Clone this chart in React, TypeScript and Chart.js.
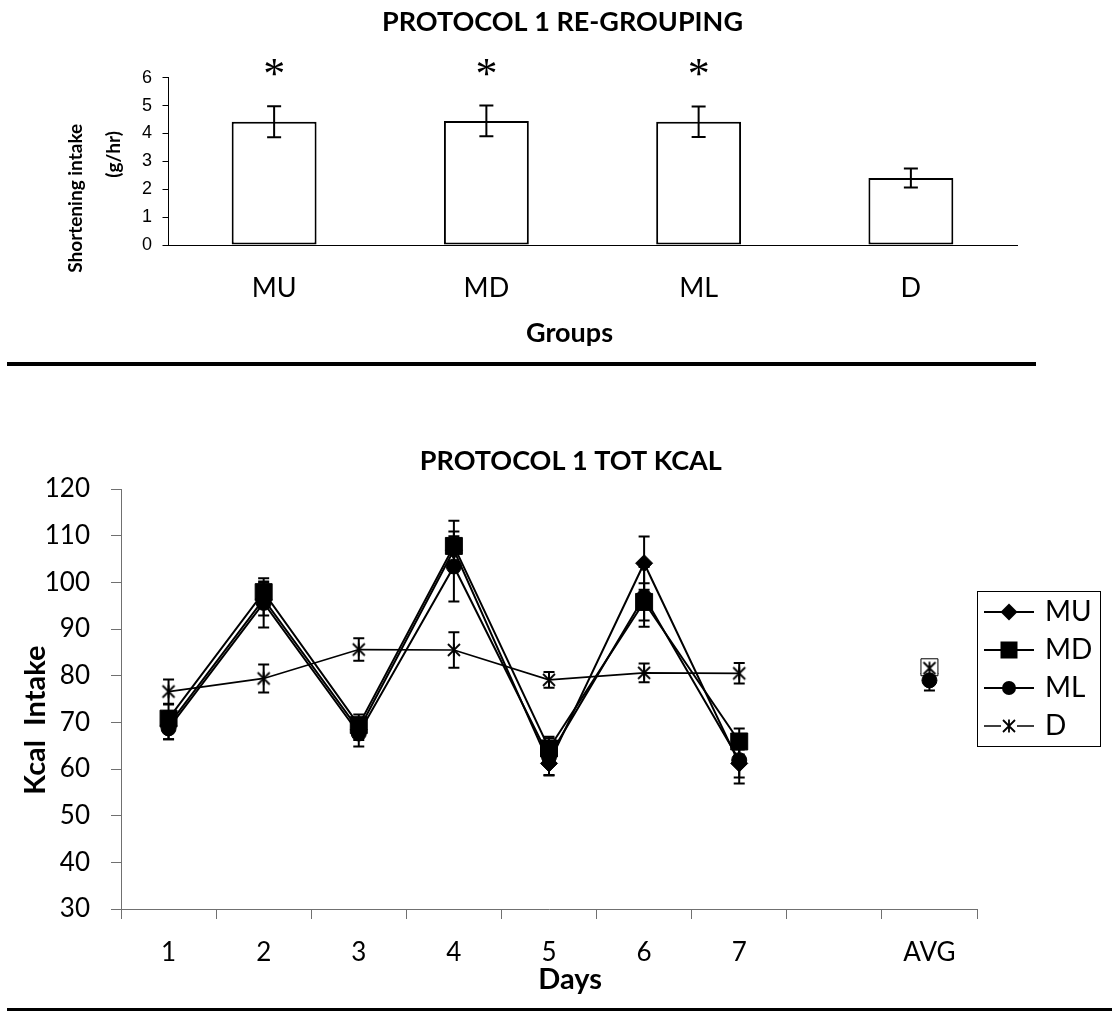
import React, { useEffect, useRef } from 'react';
import { Chart, registerables } from 'chart.js';

Chart.register(...registerables);

// ---------- Top chart data ----------
const groupLabels = ['MU', 'MD', 'ML', 'D'];
const shorteningMeans = [4.42, 4.45, 4.42, 2.4];
const shorteningErrors = [0.56, 0.55, 0.55, 0.34];
const significance = ['*', '*', '*', ''];

// ---------- Bottom chart data ----------
const dayLabels = ['1', '2', '3', '4', '5', '6', '7', '', 'AVG'];
const seriesNames = ['MU', 'MD', 'ML', 'D'];
const muKcal = [69.4, 96.4, 68.4, 106.9, 61.2, 104.1, 61.2, null, 80.5];
const muErr = [3.0, 3.5, 2.2, 3.0, 2.5, 5.7, 3.0, null, 1.5];
const mdKcal = [70.8, 97.9, 69.4, 107.8, 64.4, 95.8, 65.9, null, 81.8];
const mdErr = [3.0, 2.3, 2.3, 5.4, 2.5, 4.0, 2.8, null, 1.4];
const mlKcal = [68.7, 95.6, 67.6, 103.4, 62.6, 96.9, 61.9, null, 79.0];
const mlErr = [2.3, 5.3, 2.8, 7.5, 4.0, 6.4, 5.0, null, 2.2];
const dKcal = [76.6, 79.4, 85.6, 85.5, 79.1, 80.6, 80.5, null, 81.6];
const dErr = [2.6, 3.0, 2.4, 3.8, 1.7, 2.0, 2.2, null, 1.5];

const LEGEND_FONT = 28;
const LEGEND_PAD = 16;
const LEGEND_ICON_W = 44;

const measureCtx = () => document.createElement('canvas').getContext('2d')!;

// shifts centred text along its reading direction by padding it with spaces
function shiftAlong(text: string, px: number, font: string) {
  const c = measureCtx();
  c.font = font;
  const sw = c.measureText(' ').width;
  const n = Math.max(0, Math.round((Math.abs(px) * 2) / sw));
  const sp = ' '.repeat(n);
  return px > 0 ? sp + text : text + sp;
}

function drawMarker(g: CanvasRenderingContext2D, kind: string, x: number, y: number) {
  g.fillStyle = '#000';
  g.strokeStyle = '#000';
  g.beginPath();
  if (kind === 'diamond') {
    g.moveTo(x - 8.5, y);
    g.lineTo(x, y - 8.5);
    g.lineTo(x + 8.5, y);
    g.lineTo(x, y + 8.5);
    g.closePath();
    g.fill();
  } else if (kind === 'square') {
    g.fillRect(x - 8.5, y - 8.5, 17, 17);
  } else if (kind === 'circle') {
    g.arc(x, y, 7, 0, Math.PI * 2);
    g.fill();
  } else {
    g.lineWidth = 1.8;
    g.moveTo(x - 6, y - 6);
    g.lineTo(x + 6, y + 6);
    g.moveTo(x + 6, y - 6);
    g.lineTo(x - 6, y + 6);
    g.moveTo(x, y - 6.5);
    g.lineTo(x, y + 6.5);
    g.stroke();
  }
}

function makeStarPoint() {
  const c = document.createElement('canvas');
  c.width = 16;
  c.height = 16;
  const g = c.getContext('2d')!;
  drawMarker(g, 'star', 8, 8);
  return c;
}

function makeLegendIcon(kind: string) {
  const c = document.createElement('canvas');
  c.width = 50;
  c.height = 20;
  const g = c.getContext('2d')!;
  g.strokeStyle = '#000';
  g.lineWidth = kind === 'star' ? 1.6 : 2;
  g.beginPath();
  if (kind === 'star') {
    g.moveTo(0, 10);
    g.lineTo(17, 10);
    g.moveTo(33, 10);
    g.lineTo(50, 10);
  } else {
    g.moveTo(0, 10);
    g.lineTo(50, 10);
  }
  g.stroke();
  drawMarker(g, kind, 25, 10);
  return c;
}

function drawErrors(chart: any, opts: any) {
  const ctx = chart.ctx;
  const yScale = chart.scales.y;
  chart.data.datasets.forEach((ds: any, i: number) => {
    const errs = ds.errors;
    if (!errs) return;
    const meta = chart.getDatasetMeta(i);
    ctx.save();
    ctx.strokeStyle = '#000';
    ctx.lineWidth = opts.lineWidth;
    meta.data.forEach((el: any, j: number) => {
      const v = ds.data[j];
      const e = errs[j];
      if (v == null || e == null) return;
      const x = el.x;
      const yt = yScale.getPixelForValue(v + e);
      const yb = yScale.getPixelForValue(v - e);
      const cw = opts.capWidth / 2;
      ctx.beginPath();
      ctx.moveTo(x, yt);
      ctx.lineTo(x, yb);
      ctx.moveTo(x - cw, yt);
      ctx.lineTo(x + cw, yt);
      ctx.moveTo(x - cw, yb);
      ctx.lineTo(x + cw, yb);
      ctx.stroke();
    });
    ctx.restore();
  });
}

const errorBarPlugin = {
  id: 'errorBars',
  beforeDatasetsDraw(chart: any, _a: any, opts: any) {
    if (opts.when === 'before') drawErrors(chart, opts);
  },
  afterDatasetsDraw(chart: any, _a: any, opts: any) {
    if (opts.when === 'after') drawErrors(chart, opts);
  },
};

const sigPlugin = {
  id: 'sigMarks',
  afterDatasetsDraw(chart: any) {
    const ctx = chart.ctx;
    const meta = chart.getDatasetMeta(0);
    const yc = chart.scales.y.getPixelForValue(6.35);
    ctx.save();
    ctx.font = '44px "Liberation Serif"';
    ctx.fillStyle = '#000';
    ctx.textAlign = 'center';
    ctx.textBaseline = 'alphabetic';
    significance.forEach((s, i) => {
      if (!s) return;
      const m = ctx.measureText(s);
      const base = yc + (m.actualBoundingBoxAscent - m.actualBoundingBoxDescent) / 2;
      ctx.fillText(s, meta.data[i].x, base);
    });
    ctx.restore();
  },
};

const legendFramePlugin = {
  id: 'legendFrame',
  afterDraw(chart: any) {
    const hb = chart.legend && chart.legend.legendHitBoxes;
    if (!hb || !hb.length) return;
    const ctx = chart.ctx;
    const l = Math.min(...hb.map((h: any) => h.left)) - 10;
    const t = hb[0].top - 7;
    const r = l + 123;
    const last = hb[hb.length - 1];
    const b = last.top + last.height + 6;
    ctx.save();
    ctx.strokeStyle = '#000';
    ctx.lineWidth = 1;
    ctx.strokeRect(Math.round(l) + 0.5, Math.round(t) + 0.5, Math.round(r - l), Math.round(b - t));
    ctx.restore();
  },
};

export default function App() {
  const topRef = useRef<HTMLCanvasElement>(null);
  const botRef = useRef<HTMLCanvasElement>(null);

  useEffect(() => {
    Chart.defaults.font.family = 'Lato';
    Chart.defaults.color = '#000';

    const top = new Chart(topRef.current!, {
      type: 'bar',
      data: {
        labels: groupLabels,
        datasets: [
          {
            data: shorteningMeans,
            errors: shorteningErrors,
            backgroundColor: '#fff',
            borderColor: '#000',
            borderWidth: 2,
            borderSkipped: false,
            barPercentage: 0.4,
            categoryPercentage: 1,
          } as any,
        ],
      },
      options: {
        responsive: false,
        animation: false,
        devicePixelRatio: 1,
        layout: { padding: { left: 13, right: 0, top: 0, bottom: 0 } },
        plugins: {
          legend: { display: false },
          tooltip: { enabled: false },
          title: {
            display: true,
            text: 'PROTOCOL 1 RE-GROUPING',
            color: '#000',
            font: { size: 27, weight: 'bold', lineHeight: 1.2 },
            padding: { top: 5.8, bottom: 39.5 },
          },
          errorBars: { when: 'after', capWidth: 14, lineWidth: 2 },
        } as any,
        scales: {
          x: {
            grid: { display: false, drawTicks: false },
            border: { color: '#000', width: 1 },
            ticks: { font: { size: 27 }, padding: 26.8, color: '#000' },
            title: {
              display: true,
              text: shiftAlong('Groups', -22, 'bold 27px Lato'),
              color: '#000',
              font: { size: 27, weight: 'bold', lineHeight: 1.2 },
              padding: { top: 0, bottom: 5.8 },
            },
            afterFit: (s: any) => {
              s.height = 110;
            },
          },
          y: {
            min: 0,
            max: 6,
            ticks: { stepSize: 1, font: { family: 'Liberation Sans', size: 18 }, padding: 10.5, color: '#000' },
            grid: { drawOnChartArea: false, tickLength: 5.5, color: '#000' },
            border: { color: '#000', width: 1 },
            title: {
              display: true,
              text: [
                shiftAlong('Shortening intake', -36, 'bold 19px Lato'),
                shiftAlong('(g/hr)', 6, 'bold 19px Lato'),
              ],
              color: '#000',
              font: { size: 19, weight: 'bold', lineHeight: 2 },
              padding: { top: 44, bottom: 0 },
            },
            afterFit: (s: any) => {
              s.width = 155;
            },
          },
          y2: {
            position: 'right',
            display: true,
            grid: { display: false, drawTicks: false },
            ticks: { display: false },
            border: { display: false },
            afterFit: (s: any) => {
              s.width = 95;
            },
          },
        } as any,
      },
      plugins: [errorBarPlugin, sigPlugin],
    } as any);

    // legend width -> right padding so the plot ends where the reference's does
    const mctx = measureCtx();
    mctx.font = `normal ${LEGEND_FONT}px Lato`;
    const maxText = Math.max(...seriesNames.map((n) => mctx.measureText(n).width));
    const legendW = LEGEND_PAD + LEGEND_ICON_W + LEGEND_FONT / 2 + maxText + 10;
    const padRight = Math.max(0, 1112 - 971 - legendW);
    const titleCenter = (1112 - padRight) / 2;

    const starPoint = makeStarPoint();
    const legendIcons = [
      makeLegendIcon('diamond'),
      makeLegendIcon('square'),
      makeLegendIcon('circle'),
      makeLegendIcon('star'),
    ];
    const mdFill = mdKcal.map((_, i) => (dayLabels[i] === 'AVG' ? '#fff' : '#000'));

    const common = {
      borderColor: '#000',
      borderWidth: 2,
      pointBorderColor: '#000',
      pointBackgroundColor: '#000',
      pointBorderWidth: 1,
      tension: 0,
    };

    const bot = new Chart(botRef.current!, {
      type: 'line',
      data: {
        labels: dayLabels,
        datasets: [
          { ...common, label: seriesNames[0], data: muKcal, errors: muErr, order: 4, pointStyle: 'rectRot', pointRadius: 8.5 },
          { ...common, label: seriesNames[1], data: mdKcal, errors: mdErr, order: 3, pointStyle: 'rect', pointRadius: 12, pointBackgroundColor: mdFill },
          { ...common, label: seriesNames[2], data: mlKcal, errors: mlErr, order: 2, pointStyle: 'circle', pointRadius: 7.5 },
          { ...common, label: seriesNames[3], data: dKcal, errors: dErr, order: 1, pointStyle: starPoint, borderWidth: 1.75 },
        ] as any,
      },
      options: {
        responsive: false,
        animation: false,
        devicePixelRatio: 1,
        layout: { padding: { left: 0, right: padRight, top: 0, bottom: 0 } },
        plugins: {
          tooltip: { enabled: false },
          title: {
            display: true,
            text: shiftAlong('PROTOCOL 1 TOT KCAL', 571 - titleCenter, 'bold 27px Lato'),
            color: '#000',
            font: { size: 27, weight: 'bold', lineHeight: 1.2 },
            padding: { top: 14.8, bottom: 11.8 },
          },
          legend: {
            position: 'right',
            align: 'start',
            title: { display: true, text: '', font: { size: 12, lineHeight: 1 }, padding: { top: 146, bottom: 0 } },
            labels: {
              usePointStyle: true,
              pointStyleWidth: LEGEND_ICON_W,
              boxHeight: LEGEND_FONT,
              padding: 10,
              color: '#000',
              font: { size: LEGEND_FONT },
              generateLabels: (chart: any) => {
                const items = (Chart.defaults.plugins.legend.labels as any).generateLabels(chart);
                items.sort((a: any, b: any) => a.datasetIndex - b.datasetIndex);
                items.forEach((it: any) => {
                  it.pointStyle = legendIcons[it.datasetIndex];
                  it.lineWidth = 0;
                });
                return items;
              },
            },
          },
          errorBars: { when: 'before', capWidth: 11, lineWidth: 2 },
        } as any,
        scales: {
          x: {
            offset: true,
            grid: { drawOnChartArea: false, offset: true, tickLength: 10, color: '#707070' },
            border: { color: '#707070', width: 1 },
            ticks: { font: { size: 26 }, padding: 18, autoSkip: false, maxRotation: 0, color: '#000' },
            title: {
              display: true,
              text: shiftAlong('Days', 20, 'bold 29px Lato'),
              color: '#000',
              font: { size: 29, weight: 'bold', lineHeight: 1.2 },
              padding: { top: 0, bottom: 2.6 },
            },
            afterFit: (s: any) => {
              s.height = 91;
            },
          },
          y: {
            min: 30,
            max: 120,
            ticks: { stepSize: 10, font: { size: 26 }, padding: 21, color: '#000' },
            grid: { drawOnChartArea: false, tickLength: 10, color: '#707070' },
            border: { color: '#707070', width: 1 },
            title: {
              display: true,
              text: shiftAlong('Kcal  Intake', -20, 'bold 29px Lato'),
              color: '#000',
              font: { size: 29, weight: 'bold', lineHeight: 1.2 },
              padding: { top: 18.6, bottom: 0 },
            },
            afterFit: (s: any) => {
              s.width = 121;
            },
          },
        } as any,
      },
      plugins: [errorBarPlugin, legendFramePlugin],
    } as any);

    return () => {
      top.destroy();
      bot.destroy();
    };
  }, []);

  return (
    <div
      style={{
        position: 'absolute',
        left: 0,
        top: 0,
        width: 1112,
        height: 1011,
        overflow: 'hidden',
        background: '#fff',
      }}
    >
      <div style={{ position: 'absolute', left: 0, top: 0, width: 1112, height: 355 }}>
        <canvas ref={topRef} width={1112} height={355} style={{ display: 'block' }} />
      </div>
      <div style={{ position: 'absolute', left: 7, top: 362, width: 1029, height: 4, background: '#000' }} />
      <div style={{ position: 'absolute', left: 0, top: 430, width: 1112, height: 570 }}>
        <canvas ref={botRef} width={1112} height={570} style={{ display: 'block' }} />
      </div>
      <div style={{ position: 'absolute', left: 7, top: 1008, width: 1105, height: 3, background: '#000' }} />
    </div>
  );
}
